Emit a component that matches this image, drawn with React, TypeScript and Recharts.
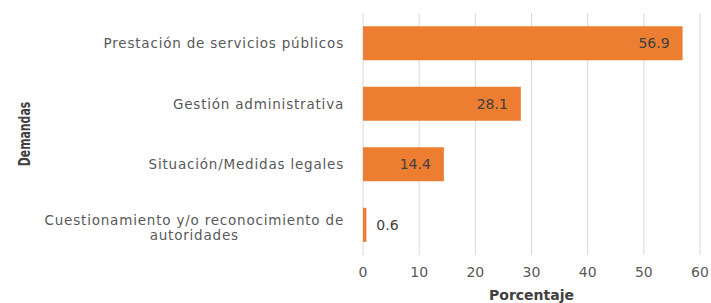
import React from 'react';
import { BarChart, Bar, XAxis, YAxis, CartesianGrid, LabelList } from 'recharts';

const categories = [
    'Prestación de servicios públicos',
    'Gestión administrativa',
    'Situación/Medidas legales',
    'Cuestionamiento y/o reconocimiento de\nautoridades',
];
const percentages = [56.9, 28.1, 14.4, 0.6];
const xTicks = [0, 10, 20, 30, 40, 50, 60];

const data = categories.map((name, i) => ({ name, value: percentages[i] }));

const FONT = "'DejaVu Sans', Verdana, sans-serif";
const CAT_SIZE = 13.5;
const CAT_SPACING = 0.8;

const measure = (text: string) => {
    const ctx = document.createElement('canvas').getContext('2d');
    if (!ctx) return text.length * 8.5;
    ctx.font = `${CAT_SIZE}px ${FONT}`;
    return ctx.measureText(text).width + CAT_SPACING * text.length;
};

const CategoryTick = (props: any) => {
    const { x, y, payload } = props;
    const lines = String(payload.value).split('\n');
    const common = {
        fontSize: CAT_SIZE,
        fontFamily: FONT,
        fill: '#595959',
        letterSpacing: CAT_SPACING,
    };
    if (lines.length === 1) {
        return (
            <text x={x} y={y} dy={5} textAnchor="end" {...common}>
                {lines[0]}
            </text>
        );
    }
    const widest = Math.max(...lines.map((l) => measure(l)));
    const cx = x - widest / 2;
    return (
        <text x={cx} y={y} textAnchor="middle" {...common}>
            {lines.map((l, i) => (
                <tspan key={i} x={cx} dy={i === 0 ? 0 : 15}>
                    {l}
                </tspan>
            ))}
        </text>
    );
};

const ValueLabel = (props: any) => {
    const { x, y, width, height, value } = props;
    const inside = value >= 5;
    return (
        <text
            x={inside ? x + width - 13 : x + width + 10}
            y={y + height / 2 + 5}
            textAnchor={inside ? 'end' : 'start'}
            fontSize={14}
            fontFamily={FONT}
            fill="#404040"
        >
            {value}
        </text>
    );
};

const YTitle = () => (
    <text
        x={0}
        y={0}
        transform="translate(30, 134) rotate(-90) scale(0.68, 1)"
        textAnchor="middle"
        fontSize={16}
        fontWeight="bold"
        fontFamily={FONT}
        fill="#404040"
    >
        Demandas
    </text>
);

export default function App() {
    return (
        <div style={{ position: 'absolute', left: 0, top: 0, background: '#fff' }}>
            <BarChart
                width={711}
                height={303}
                data={data}
                layout="vertical"
                margin={{ top: 13, right: 11, bottom: 0, left: 0 }}
                barCategoryGap="22%"
            >
                <CartesianGrid horizontal={false} stroke="#d9d9d9" />
                <XAxis
                    type="number"
                    domain={[0, 60]}
                    ticks={xTicks}
                    axisLine={false}
                    tickLine={false}
                    tickSize={0}
                    tickMargin={12}
                    height={48}
                    tick={{ fontSize: 14, fontFamily: FONT, fill: '#595959' }}
                    label={{
                        value: 'Porcentaje',
                        position: 'insideBottom',
                        offset: 3,
                        fontSize: 14,
                        fontWeight: 'bold',
                        fontFamily: FONT,
                        fill: '#404040',
                    }}
                />
                <YAxis
                    type="category"
                    dataKey="name"
                    width={363}
                    axisLine={false}
                    tickLine={false}
                    tickSize={0}
                    tickMargin={19}
                    tick={<CategoryTick />}
                    label={<YTitle />}
                />
                <Bar dataKey="value" fill="#ED7D31" isAnimationActive={false}>
                    <LabelList dataKey="value" content={<ValueLabel />} />
                </Bar>
            </BarChart>
        </div>
    );
}
